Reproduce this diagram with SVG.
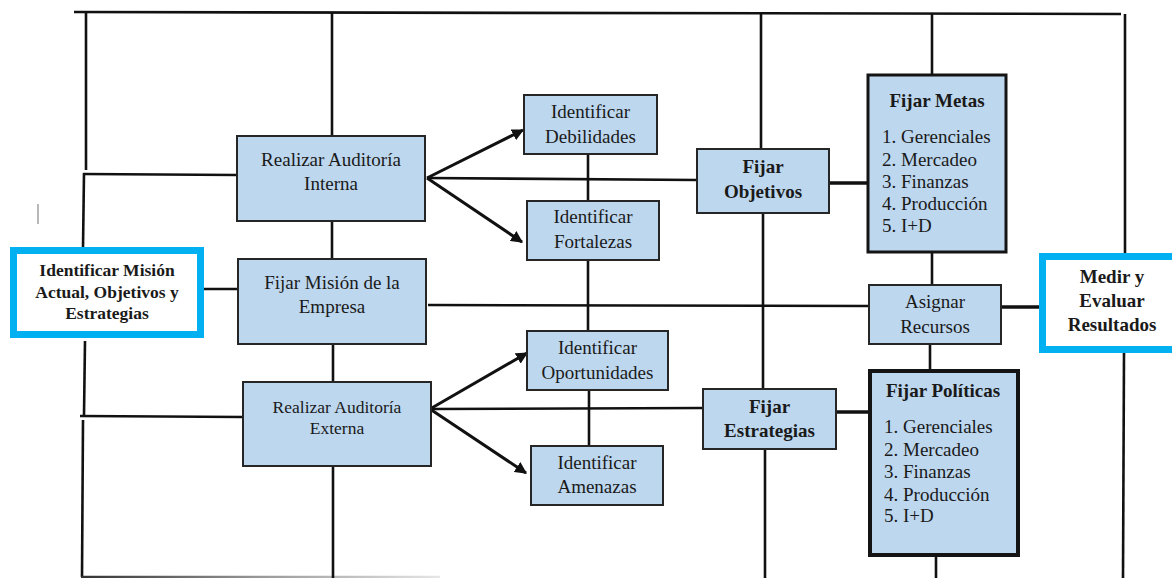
<svg xmlns="http://www.w3.org/2000/svg" width="1172" height="578" viewBox="0 0 1172 578">
<style>
.bg{fill:#ffffff}
.box{fill:#BDD7EE;stroke:#262626;stroke-width:2}
.box3{fill:#BDD7EE;stroke:#141414;stroke-width:3}
.box4{fill:#BDD7EE;stroke:#141414;stroke-width:4}
.cyan{fill:#ffffff;stroke:#00B0F0;stroke-width:7}
.ln{stroke:#111;stroke-width:2.6;fill:none;stroke-linecap:butt}
.ln3{stroke:#111;stroke-width:3.4;fill:none}
.arr{stroke:#111;stroke-width:3;fill:none;marker-end:url(#ah)}
.t{font-family:"Liberation Serif","Times New Roman",serif;font-size:19px;fill:#1a1a1a;text-anchor:middle}
.ts{font-family:"Liberation Serif","Times New Roman",serif;font-size:17.5px;fill:#1a1a1a;text-anchor:middle}
.tb{font-family:"Liberation Serif","Times New Roman",serif;font-size:19px;font-weight:bold;fill:#1a1a1a;text-anchor:middle}
.tbs{font-family:"Liberation Serif","Times New Roman",serif;font-size:17.5px;font-weight:bold;fill:#1a1a1a;text-anchor:middle}
.tl{font-family:"Liberation Serif","Times New Roman",serif;font-size:19px;fill:#1a1a1a;text-anchor:start}
</style>
<defs>
<marker id="ah" viewBox="0 0 10 10" refX="9" refY="5" markerWidth="4" markerHeight="4" orient="auto" markerUnits="strokeWidth">
<path d="M0,0 L10,5 L0,10 z" fill="#111"/>
</marker>
<linearGradient id="fade" x1="82" y1="0" x2="440" y2="0" gradientUnits="userSpaceOnUse">
<stop offset="0" stop-color="#333"/>
<stop offset="0.5" stop-color="#999"/>
<stop offset="1" stop-color="#e6e6e6"/>
</linearGradient>
</defs>
<rect class="bg" x="0" y="0" width="1172" height="578"/>

<g id="connectors">
<!-- top frame -->
<line class="ln" x1="74" y1="12" x2="1121" y2="14"/>
<line class="ln" x1="86" y1="12" x2="86" y2="170"/>
<line class="ln" x1="84" y1="173" x2="83" y2="248"/>
<line class="ln" x1="83" y1="174" x2="237" y2="175"/>
<line class="ln" x1="332" y1="12" x2="332" y2="136"/>
<line class="ln" x1="761" y1="13" x2="761" y2="149"/>
<line class="ln" x1="932" y1="14" x2="932" y2="75"/>
<line class="ln" x1="1125" y1="14" x2="1125" y2="253"/>
<!-- left lower -->
<line class="ln" x1="85" y1="341" x2="84" y2="415"/>
<line class="ln" x1="80" y1="416" x2="243" y2="417"/>
<line class="ln" x1="83" y1="420" x2="82" y2="577"/>
<line x1="81" y1="577" x2="440" y2="577" stroke="url(#fade)" stroke-width="2.6"/>
<!-- mission column -->
<line class="ln" x1="204" y1="289" x2="238" y2="289"/>
<line class="ln" x1="332" y1="221" x2="332" y2="259"/>
<line class="ln" x1="333" y1="344" x2="333" y2="382"/>
<line class="ln" x1="333" y1="466" x2="333" y2="578"/>
<!-- horizontals -->
<line class="ln" x1="427" y1="178" x2="697" y2="180"/>
<line class="ln" x1="428" y1="305" x2="869" y2="306"/>
<line class="ln" x1="430" y1="409" x2="703" y2="408"/>
<!-- SWOT column -->
<line class="ln" x1="588" y1="154" x2="588" y2="201"/>
<line class="ln" x1="588" y1="260" x2="588" y2="331"/>
<line class="ln" x1="589" y1="390" x2="589" y2="446"/>
<!-- objectives column -->
<line class="ln" x1="763" y1="213" x2="763" y2="389"/>
<line class="ln" x1="765" y1="449" x2="765" y2="578"/>
<line class="ln3" x1="829" y1="183" x2="868" y2="183"/>
<line class="ln3" x1="836" y1="412" x2="870" y2="412"/>
<!-- right column -->
<line class="ln" x1="932" y1="252" x2="932" y2="285"/>
<line class="ln" x1="930" y1="344" x2="930" y2="371"/>
<line class="ln" x1="936" y1="555" x2="936" y2="578"/>
<line class="ln3" x1="1001" y1="307" x2="1039" y2="307"/>
<line class="ln" x1="1124" y1="353" x2="1123" y2="578"/>
<!-- arrows -->
<line class="arr" x1="427" y1="178" x2="523" y2="130"/>
<line class="arr" x1="427" y1="178" x2="522" y2="242"/>
<line class="arr" x1="430" y1="409" x2="527" y2="353"/>
<line class="arr" x1="430" y1="409" x2="526" y2="473"/>
</g>

<line x1="38" y1="204" x2="38" y2="224" stroke="#a0a0a0" stroke-width="1.5"/>

<g id="identificar-mision">
<rect class="cyan" x="13.5" y="250.5" width="187" height="84"/>
<text class="tbs" x="107" y="276">Identificar Misión</text>
<text class="tbs" x="107" y="298">Actual, Objetivos y</text>
<text class="tbs" x="107" y="319">Estrategias</text>
</g>

<g id="auditoria-interna">
<rect class="box" x="237" y="136" width="188" height="85"/>
<text class="t" x="331" y="166">Realizar Auditoría</text>
<text class="t" x="331" y="190">Interna</text>
</g>

<g id="fijar-mision">
<rect class="box" x="238" y="259" width="188" height="85"/>
<text class="t" x="332" y="289">Fijar Misión de la</text>
<text class="t" x="332" y="313">Empresa</text>
</g>

<g id="auditoria-externa">
<rect class="box" x="243" y="382" width="188" height="84"/>
<text class="ts" x="337" y="413">Realizar Auditoría</text>
<text class="ts" x="337" y="434">Externa</text>
</g>

<g id="debilidades">
<rect class="box" x="524" y="95" width="133" height="59"/>
<text class="t" x="590.5" y="118">Identificar</text>
<text class="t" x="590.5" y="143">Debilidades</text>
</g>

<g id="fortalezas">
<rect class="box" x="527" y="201" width="132" height="59"/>
<text class="t" x="593" y="223">Identificar</text>
<text class="t" x="593" y="248">Fortalezas</text>
</g>

<g id="oportunidades">
<rect class="box" x="527" y="331" width="141" height="59"/>
<text class="t" x="597.5" y="354">Identificar</text>
<text class="t" x="597.5" y="379">Oportunidades</text>
</g>

<g id="amenazas">
<rect class="box" x="531" y="446" width="132" height="59"/>
<text class="t" x="597" y="469">Identificar</text>
<text class="t" x="597" y="493">Amenazas</text>
</g>

<g id="fijar-objetivos">
<rect class="box" x="697" y="149" width="132" height="64"/>
<text class="tb" x="763" y="173">Fijar</text>
<text class="tb" x="763" y="198">Objetivos</text>
</g>

<g id="fijar-estrategias">
<rect class="box" x="703" y="389" width="133" height="60"/>
<text class="tb" x="769.5" y="413">Fijar</text>
<text class="tb" x="769.5" y="437">Estrategias</text>
</g>

<g id="fijar-metas">
<rect class="box3" x="868" y="75" width="138" height="177"/>
<text class="tb" x="937" y="107">Fijar Metas</text>
<text class="tl" x="882" y="143">1. Gerenciales</text>
<text class="tl" x="882" y="166">2. Mercadeo</text>
<text class="tl" x="882" y="188">3. Finanzas</text>
<text class="tl" x="882" y="210">4. Producción</text>
<text class="tl" x="882" y="232">5. I+D</text>
</g>

<g id="asignar-recursos">
<rect class="box" x="869" y="285" width="132" height="59"/>
<text class="t" x="935" y="308">Asignar</text>
<text class="t" x="935" y="333">Recursos</text>
</g>

<g id="fijar-politicas">
<rect class="box4" x="870" y="371" width="148" height="184"/>
<text class="tb" x="943" y="397">Fijar Políticas</text>
<text class="tl" x="884" y="433">1. Gerenciales</text>
<text class="tl" x="884" y="456">2. Mercadeo</text>
<text class="tl" x="884" y="478">3. Finanzas</text>
<text class="tl" x="884" y="501">4. Producción</text>
<text class="tl" x="884" y="522">5. I+D</text>
</g>

<g id="medir-evaluar">
<rect class="cyan" x="1042.5" y="256.5" width="150" height="93"/>
<text class="tb" x="1112" y="283">Medir y</text>
<text class="tb" x="1112" y="307">Evaluar</text>
<text class="tb" x="1112" y="331">Resultados</text>
</g>
</svg>
